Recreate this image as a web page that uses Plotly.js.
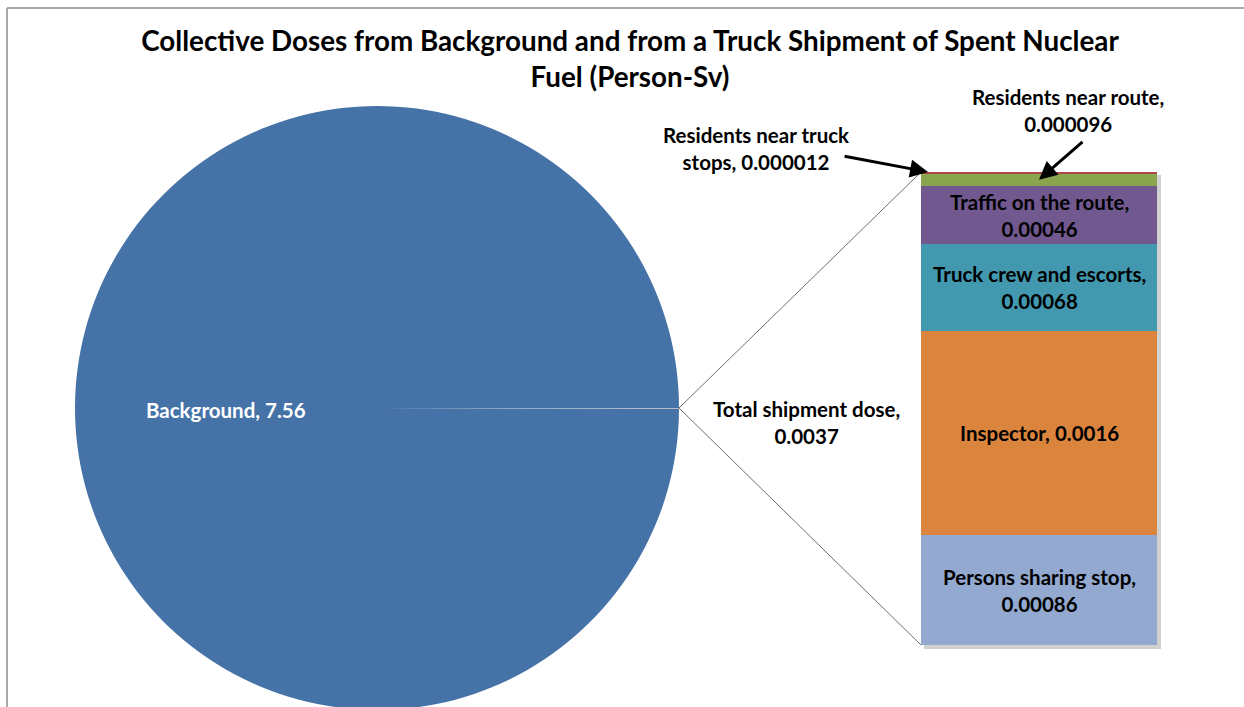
<!DOCTYPE html>
<html>
<head>
<meta charset="utf-8">
<script src="https://cdn.plot.ly/plotly-3.0.1.min.js"></script>
<style>
html,body{margin:0;padding:0;overflow:hidden;background:#fff;}
#chart{width:1244px;height:720px;}
</style>
</head>
<body>
<div id="chart"></div>
<script>
// ---- data ----
const pieLabels = ['Total shipment dose', 'Background'];
const pieValues = [0.0037, 7.56];
const pieValueText = ['0.0037', '7.56'];
const pieColors = ['#B4BDC8', '#4572A7'];

const barLabels = ['Persons sharing stop', 'Inspector', 'Truck crew and escorts', 'Traffic on the route', 'Residents near route', 'Residents near truck stops'];
const barValues = [0.00086, 0.0016, 0.00068, 0.00046, 0.000096, 0.000012];
const barValueText = ['0.00086', '0.0016', '0.00068', '0.00046', '0.000096', '0.000012'];
const barColors = ['#93A9CF', '#DB843D', '#4198AF', '#71588F', '#89A54E', '#AA4643'];

// ---- layout constants (pixels) ----
const W = 1244, H = 720;
const px = v => v / W;
const py = v => 1 - v / H;
const pieDom = {x: [px(75), px(679)], y: [py(710), py(106)]};
const barDom = {x: [px(921), px(1157)], y: [py(645), py(172)]};
const FONT = 'Lato, "Open Sans", sans-serif';
const LS = 20.5;

const total = barValues.reduce((a, b) => a + b, 0);
const cum = [];
let acc = 0;
barValues.forEach(v => { cum.push(acc + v / 2); acc += v; });

const traces = [{
  type: 'pie',
  labels: pieLabels,
  values: pieValues,
  sort: false,
  direction: 'clockwise',
  rotation: 90,
  marker: {colors: pieColors, line: {width: 0}},
  textinfo: 'none',
  hoverinfo: 'label+value',
  showlegend: false,
  domain: pieDom
}];
barLabels.forEach((l, i) => {
  traces.push({
    type: 'bar',
    x: [0],
    y: [barValues[i]],
    name: l,
    marker: {color: barColors[i], line: {width: 0}},
    width: 1,
    xaxis: 'x2',
    yaxis: 'y2',
    showlegend: false,
    hoverinfo: 'name+y'
  });
});

const lab = (o) => Object.assign({showarrow: false, xanchor: 'center', yanchor: 'middle',
  font: {family: FONT, size: LS, color: '#000', weight: 'bold'}}, o);

const annotations = [];
[0, 1, 2, 3].forEach(i => {
  const txt = i === 1 ? barLabels[i] + ', ' + barValueText[i] : barLabels[i] + ',<br>' + barValueText[i];
  annotations.push(lab({xref: 'x2', yref: 'y2', x: 0, y: cum[i], text: txt}));
});
// Background label
annotations.push(lab({xref: 'paper', yref: 'paper', x: px(226), y: py(410),
  text: pieLabels[1] + ', ' + pieValueText[1], font: {family: FONT, size: LS, color: '#fff', weight: 'bold'}}));
// Total shipment label
annotations.push(lab({xref: 'paper', yref: 'paper', x: px(806), y: py(422), text: pieLabels[0] + ',<br>' + pieValueText[0]}));
// Residents near truck stops (label + arrow)
annotations.push(lab({xref: 'paper', yref: 'paper', x: px(756), y: py(149), text: 'Residents near truck<br>stops, ' + barValueText[5]}));
annotations.push({
  xref: 'x2', yref: 'y2', x: -0.47, y: total, text: '', showarrow: true,
  ax: -85, ay: -16, arrowhead: 2, arrowsize: 1.2, arrowwidth: 3, arrowcolor: '#000', standoff: 0
});
// Residents near route (label + arrow)
annotations.push(lab({xref: 'paper', yref: 'paper', x: px(1068), y: py(110), text: barLabels[4] + ',<br>' + barValueText[4]}));
annotations.push({
  xref: 'x2', yref: 'y2', x: 0, y: cum[4], text: '', showarrow: true,
  ax: 45, ay: -39, arrowhead: 2, arrowsize: 1.2, arrowwidth: 3, arrowcolor: '#000', standoff: 0
});

const pieCy = (pieDom.y[0] + pieDom.y[1]) / 2;
const pieEdge = pieDom.x[1];

const shapes = [
  // chart area border (left & top)
  {type: 'line', xref: 'paper', yref: 'paper', x0: px(7), x1: px(7), y0: py(8), y1: 0, line: {color: '#8C8C8C', width: 1.5}},
  {type: 'line', xref: 'paper', yref: 'paper', x0: px(7), x1: 1, y0: py(8), y1: py(8), line: {color: '#8C8C8C', width: 1.5}},
  // bar shadow
  {type: 'rect', xref: 'paper', yref: 'paper', layer: 'below', x0: barDom.x[0] + px(3), x1: barDom.x[1] + px(4), y0: barDom.y[0] - 4 / H, y1: barDom.y[1] - 3 / H,
   fillcolor: 'rgba(0,0,0,0.18)', line: {width: 0}},
  // connector lines
  {type: 'line', xref: 'paper', yref: 'paper', x0: pieEdge, y0: pieCy, x1: barDom.x[0], y1: barDom.y[1], line: {color: '#6E6E6E', width: 1}},
  {type: 'line', xref: 'paper', yref: 'paper', x0: pieEdge, y0: pieCy, x1: barDom.x[0], y1: barDom.y[0], line: {color: '#6E6E6E', width: 1}}
];

const layout = {
  width: W, height: H,
  margin: {l: 0, r: 0, t: 0, b: 0},
  paper_bgcolor: '#fff', plot_bgcolor: 'rgba(0,0,0,0)',
  barmode: 'stack',
  title: {
    text: 'Collective Doses from Background and from a Truck Shipment of Spent Nuclear<br>Fuel (Person-Sv)',
    x: px(630), xanchor: 'center', y: py(51), yanchor: 'middle',
    font: {family: FONT, size: 27.8, color: '#000', weight: 'bold'}
  },
  xaxis2: {domain: barDom.x, range: [-0.5, 0.5], visible: false, fixedrange: true, anchor: 'y2'},
  yaxis2: {domain: barDom.y, range: [0, total], visible: false, fixedrange: true, anchor: 'x2'},
  annotations: annotations,
  shapes: shapes,
  showlegend: false
};

Plotly.newPlot('chart', traces, layout, {displayModeBar: false, staticPlot: true});
</script>
</body>
</html>
